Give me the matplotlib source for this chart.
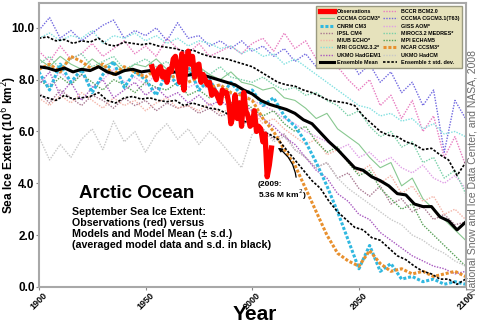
import matplotlib
matplotlib.use("Agg")
import matplotlib.pyplot as plt

plt.rcParams['font.family'] = ['Liberation Sans', 'DejaVu Sans']

# model years (5-yr steps) and ensemble years (4-yr steps)
model_years = list(range(1900, 2101, 5))
ens_years = list(range(1900, 2101, 4))
obs_years = list(range(1953, 2010))

observations = [8.5, 8.2, 8.0, 8.4, 8.5, 8.1, 8.3, 7.9, 8.4, 8.3, 8.8, 8.9, 8.4, 7.9,
                9.0, 7.6, 8.6, 9.1, 8.6, 8.9, 8.1, 8.55, 8.6, 7.9, 8.2, 8.0, 7.8, 7.9,
                7.4, 7.6, 7.5, 7.3, 7.1, 7.6, 7.5, 7.5, 7.1, 6.3, 6.6, 7.4, 6.5, 7.1,
                6.2, 7.5, 6.8, 6.6, 6.2, 6.3, 6.8, 6.0, 6.2, 6.1, 5.6, 5.9, 4.25, 4.7, 5.36]

ens_mean = [8.5, 8.45, 8.35, 8.45, 8.3, 8.4, 8.35, 8.5, 8.3, 8.2, 8.35, 8.4, 8.3, 8.35,
            8.3, 8.25, 8.3, 8.15, 8.2, 8.2, 8.1, 8.0, 7.9, 7.8, 7.6, 7.45, 7.2, 7.05,
            6.95, 6.85, 6.7, 6.45, 6.3, 5.95, 5.6, 5.3, 4.95, 4.6, 4.5, 4.25, 4.1, 3.9,
            3.6, 3.55, 3.2, 3.1, 3.1, 2.7, 2.55, 2.2, 2.5]
ens_upper = [9.6, 9.65, 9.5, 9.55, 9.4, 9.5, 9.45, 9.6, 9.35, 9.3, 9.45, 9.4, 9.35, 9.4,
             9.3, 9.25, 9.2, 9.1, 9.15, 9.0, 8.9, 8.85, 8.8, 8.7, 8.6, 8.5, 8.3, 8.1,
             7.9, 7.8, 7.75, 7.6, 7.5, 7.35, 7.2, 7.15, 7.1, 7.0, 6.6, 6.3, 6.0, 5.85,
             5.8, 5.6, 5.5, 5.3, 5.35, 5.1, 4.9, 4.3, 4.8]
ens_lower = [7.4, 7.3, 7.2, 7.4, 7.25, 7.3, 7.35, 7.5, 7.2, 7.1, 7.3, 7.35, 7.25, 7.3,
             7.2, 7.15, 7.2, 7.0, 7.1, 7.0, 6.9, 6.85, 6.7, 6.6, 6.4, 6.3, 6.0, 5.9,
             5.7, 5.3, 4.9, 4.5, 4.1, 3.8, 3.3, 2.9, 2.6, 2.3, 2.2, 1.9, 1.8, 1.5,
             1.2, 1.05, 0.8, 0.6, 0.5, 0.3, 0.3, 0.1, 0.3]

bccr = [9.1, 8.7, 9.3, 8.8, 9.0, 9.4, 8.9, 9.2, 9.5, 9.0, 9.3, 8.9, 9.6, 9.2, 9.0, 9.4,
        8.9, 9.1, 9.3, 9.0, 9.4, 9.6, 9.1, 9.8, 9.2, 9.5, 8.8, 9.0, 8.5, 8.0, 7.6, 8.0,
        7.0, 7.4, 6.5, 7.2, 6.0, 6.6, 5.0, 5.8, 4.7]
cccma_t47 = [8.8, 8.5, 8.9, 8.6, 8.4, 8.8, 8.5, 8.7, 8.3, 8.6, 8.5, 8.8, 8.4, 8.6, 8.3,
             8.5, 8.2, 8.0, 8.3, 7.9, 7.8, 7.6, 7.7, 7.3, 7.2, 6.9, 6.5, 6.7, 6.1, 5.8,
             5.5, 5.0, 4.6, 4.8, 3.9, 4.2, 3.4, 3.0, 2.6, 2.2, 1.8]
cccma_t63 = [9.9, 10.4, 9.6, 9.9, 9.5, 9.8, 10.1, 10.3, 9.6, 9.9, 9.7, 10.0, 9.5, 10.2,
             9.6, 9.7, 9.3, 9.5, 9.2, 9.5, 9.1, 9.3, 8.9, 9.2, 8.7, 9.0, 8.5, 8.8, 8.4,
             8.9, 8.2, 8.6, 7.9, 8.3, 7.5, 7.9, 7.0, 7.6, 5.2, 7.2, 6.5]
cnrm = [8.3, 7.6, 8.6, 7.9, 8.4, 7.5, 8.2, 8.7, 7.7, 8.3, 8.0, 7.4, 8.3, 7.8, 8.5, 7.6,
        8.0, 7.3, 7.9, 7.4, 7.6, 7.0, 7.3, 6.6, 6.2, 5.6, 4.8, 3.9, 2.9, 1.8, 0.7, 1.6,
        0.6, 0.9, 0.3, 0.4, 0.2, 0.3, 0.1, 0.2, 0.1]
giss = [8.1, 7.8, 8.3, 7.9, 8.2, 7.7, 8.0, 8.4, 7.9, 8.1, 7.8, 8.2, 7.9, 8.0, 7.7, 7.9,
        7.6, 7.8, 7.4, 7.5, 7.2, 7.0, 6.8, 6.5, 6.3, 6.0, 5.8, 5.6, 5.3, 5.5, 5.0, 5.2,
        4.8, 5.0, 4.6, 4.4, 4.7, 4.2, 4.0, 4.3, 3.8]
ipsl = [7.5, 7.1, 7.6, 7.3, 7.0, 7.4, 7.2, 6.9, 7.3, 7.0, 7.2, 6.8, 7.1, 6.9, 7.0, 6.7,
        6.9, 6.6, 6.7, 6.3, 6.4, 6.1, 5.7, 5.9, 5.3, 5.0, 4.6, 4.8, 4.2, 4.4, 3.8, 3.5,
        3.9, 3.2, 3.4, 2.9, 3.1, 2.6, 2.8, 2.4, 2.5]
miroc = [8.6, 8.9, 8.4, 8.8, 9.0, 8.5, 8.7, 8.9, 8.4, 8.6, 8.8, 8.5, 8.7, 8.3, 8.6, 8.4,
         8.2, 8.5, 8.1, 8.0, 7.9, 8.1, 7.8, 7.6, 7.7, 7.4, 7.5, 7.2, 7.0, 6.6, 6.8, 6.2,
         5.8, 6.0, 5.4, 5.6, 4.8, 5.0, 4.2, 4.5, 3.6]
miub = [7.3, 7.0, 7.4, 7.1, 7.5, 7.2, 6.9, 7.3, 7.0, 7.2, 6.8, 7.1, 7.3, 6.9, 7.0, 6.8,
        7.1, 6.7, 6.9, 6.5, 6.8, 6.3, 6.5, 6.1, 5.8, 5.5, 5.7, 5.1, 5.3, 4.8, 4.4, 4.7,
        4.0, 4.3, 3.6, 3.9, 3.3, 3.5, 2.8, 3.0, 2.6]
mpi = [8.0, 7.7, 8.1, 7.8, 8.2, 7.9, 7.6, 8.0, 7.8, 7.5, 7.9, 7.7, 7.6, 7.9, 7.4, 7.6,
       7.3, 7.5, 7.1, 7.2, 6.9, 6.6, 6.8, 6.3, 6.0, 6.2, 5.6, 5.2, 5.4, 4.8, 4.3, 4.5,
       3.8, 3.4, 3.0, 3.2, 2.4, 2.0, 1.6, 1.2, 0.8]
mri = [9.6, 9.8, 9.5, 9.7, 9.6, 9.9, 9.4, 9.7, 9.6, 9.8, 9.5, 9.7, 9.4, 9.6, 9.3, 9.5,
       9.4, 9.2, 9.3, 9.0, 9.2, 8.9, 9.0, 8.6, 8.8, 8.5, 8.2, 7.9, 7.6, 7.3, 7.0, 6.9,
       6.6, 6.7, 6.4, 6.5, 6.1, 6.3, 5.9, 6.0, 5.8]
ncar = [8.4, 8.6, 8.3, 8.9, 8.7, 8.4, 8.6, 8.2, 8.5, 8.3, 8.1, 8.4, 8.0, 8.2, 7.9, 8.1,
        7.7, 7.8, 7.5, 7.4, 7.2, 6.5, 6.0, 5.3, 4.7, 3.8, 2.9, 2.0, 1.3, 1.0, 0.8, 1.4,
        0.9, 0.6, 0.7, 0.5, 0.6, 0.4, 0.5, 0.6, 0.4]
hadgem = [7.8, 8.3, 7.4, 7.9, 7.2, 7.7, 8.0, 7.3, 7.6, 7.9, 7.4, 7.7, 7.3, 7.5, 7.1, 7.4,
          7.0, 7.2, 6.9, 7.1, 6.8, 6.5, 6.2, 5.8, 5.5, 5.0, 4.5, 4.2, 3.6, 3.3, 2.8, 2.6,
          2.1, 1.8, 1.5, 1.2, 1.0, 0.8, 0.7, 0.5, 0.6]
hadcm = [5.8, 4.9, 5.5, 5.0, 5.7, 6.1, 5.3, 6.4, 5.6, 6.0, 5.2, 5.9, 6.3, 5.7, 6.1, 5.5,
         6.0, 5.6, 5.1, 4.6, 5.9, 6.1, 5.6, 5.8, 5.3, 5.0, 4.6, 4.8, 4.2, 3.8, 3.5, 3.2,
         2.9, 2.6, 2.4, 2.0, 1.8, 1.5, 1.3, 1.0, 0.8]

fig = plt.figure(figsize=(4.8, 3.26), dpi=100)
ax = fig.add_axes([0.081, 0.12, 0.889, 0.87])

thin = dict(lw=1.0, ls=(0, (1, 1)))
h = {}
h['bccr'], = ax.plot(model_years, bccr, color='#e87cc0', **thin)
h['cccma'], = ax.plot(model_years, cccma_t47, color='#88c890', lw=0.8)
h['t63'], = ax.plot(model_years, cccma_t63, color='#7068e0', **thin)
h['giss'], = ax.plot(model_years, giss, color='#e0a0e6', **thin)
h['ipsl'], = ax.plot(model_years, ipsl, color='#a87890', **thin)
h['miroc'], = ax.plot(model_years, miroc, color='#78d0a8', **thin)
h['miub'], = ax.plot(model_years, miub, color='#f4b4a8', **thin)
h['mpi'], = ax.plot(model_years, mpi, color='#58a058', **thin)
h['mri'], = ax.plot(model_years, mri, color='#80e0e0', **thin)
h['hadgem'], = ax.plot(model_years, hadgem, color='#a858c0', **thin)
h['hadcm'], = ax.plot(model_years, hadcm, color='#c8c8c8', **thin)
h['cnrm'], = ax.plot(model_years, cnrm, color='#30b8e0', lw=2.2, ls=(0, (1, 0.6)))
h['ncar'], = ax.plot(model_years, ncar, color='#e8902e', lw=2.2, ls=(0, (1, 0.6)))
h['std'], = ax.plot(ens_years, ens_upper, color='black', lw=1.2, ls=(0, (1.5, 1)))
ax.plot(ens_years, ens_lower, color='black', lw=1.2, ls=(0, (1.5, 1)))
h['mean'], = ax.plot(ens_years, ens_mean, color='black', lw=2.2)
h['obs'], = ax.plot(obs_years, observations, color='#ff0000', lw=3.8)

ax.set_xlim(1900, 2100)
ax.set_ylim(0, 10.95)
ax.set_xticks([1900, 1950, 2000, 2050, 2100])
ax.set_xticklabels(['1900', '1950', '2000', '2050', '2100'], rotation=45,
                   fontsize=6.5, fontweight='bold')
ax.set_yticks([0, 2, 4, 6, 8, 10])
ax.set_yticklabels(['0.0', '2.0', '4.0', '6.0', '8.0', '10.0'], fontsize=8.5, fontweight='bold')
ax.tick_params(length=2, width=0.8, color='#888888', pad=1)
for s in ax.spines.values():
    s.set_color('#a8a8a8')
    s.set_linewidth(1.5)
ax.set_ylabel('Sea Ice Extent (10$^6$ km$^2$)', fontsize=8.6, fontweight='bold')
ax.yaxis.set_label_coords(-0.047, 0.5)
fig.text(0.53, 0.035, 'Year', fontsize=15, fontweight='bold', ha='center', va='center')

order = ['obs', 'cccma', 'cnrm', 'ipsl', 'miub', 'mri', 'hadgem', 'mean',
         'bccr', 't63', 'giss', 'miroc', 'mpi', 'ncar', 'hadcm', 'std']
labels = {'obs': 'Observations', 'cccma': 'CCCMA CGCM3*', 'cnrm': 'CNRM CM3',
          'ipsl': 'IPSL CM4', 'miub': 'MIUB ECHO*', 'mri': 'MRI CGCM2.3.2*',
          'hadgem': 'UKMO HadGEM1', 'mean': 'Ensemble Mean', 'bccr': 'BCCR BCM2.0',
          't63': 'CCCMA CGCM3.1(T63)', 'giss': 'GISS AOM*', 'miroc': 'MIROC3.2 MEDRES*',
          'mpi': 'MPI ECHAM5', 'ncar': 'NCAR CCSM3*', 'hadcm': 'UKMO HadCM',
          'std': 'Ensemble \u00b1 std. dev.'}
leg = ax.legend([h[k] for k in order], [labels[k] for k in order], ncol=2,
                loc='upper right', bbox_to_anchor=(0.995, 0.995),
                prop={'weight': 'bold', 'size': 3.9}, frameon=True, fancybox=False,
                handlelength=2.6, handletextpad=0.6, columnspacing=0.5,
                labelspacing=0.42, borderpad=0.6, borderaxespad=0.2)
leg.get_frame().set_facecolor('#e6e2bc')
leg.get_frame().set_edgecolor('#9a9a80')
leg.get_frame().set_alpha(1)

ax.text(1919, 3.45, 'Arctic Ocean', fontsize=13.5, fontweight='bold')
ax.text(1915.5, 3.08, 'September Sea Ice Extent:\nObservations (red) versus\n'
        'Models and Model Mean (\u00b1 s.d.)\n(averaged model data and s.d. in black)',
        fontsize=7.7, fontweight='bold', va='top', linespacing=1.12)
ax.annotate('(2009:\n5.36 M km$^2$)', xy=(2012, 5.37), xytext=(2002.5, 3.67),
            fontsize=6, fontweight='bold', va='center', ha='left', linespacing=0.95,
            arrowprops=dict(arrowstyle='-|>', color='black', lw=0.9, mutation_scale=6,
                            connectionstyle='arc3,rad=0.25', shrinkA=1, shrinkB=0,
                            relpos=(0.8, 1.0)))

fig.text(0.985, 0.47, 'National Snow and Ice Data Center, and NASA, 2008', rotation=90,
         fontsize=7.5, color='#6a6a6a', ha='center', va='center')

fig.savefig('out.png', dpi=100)
